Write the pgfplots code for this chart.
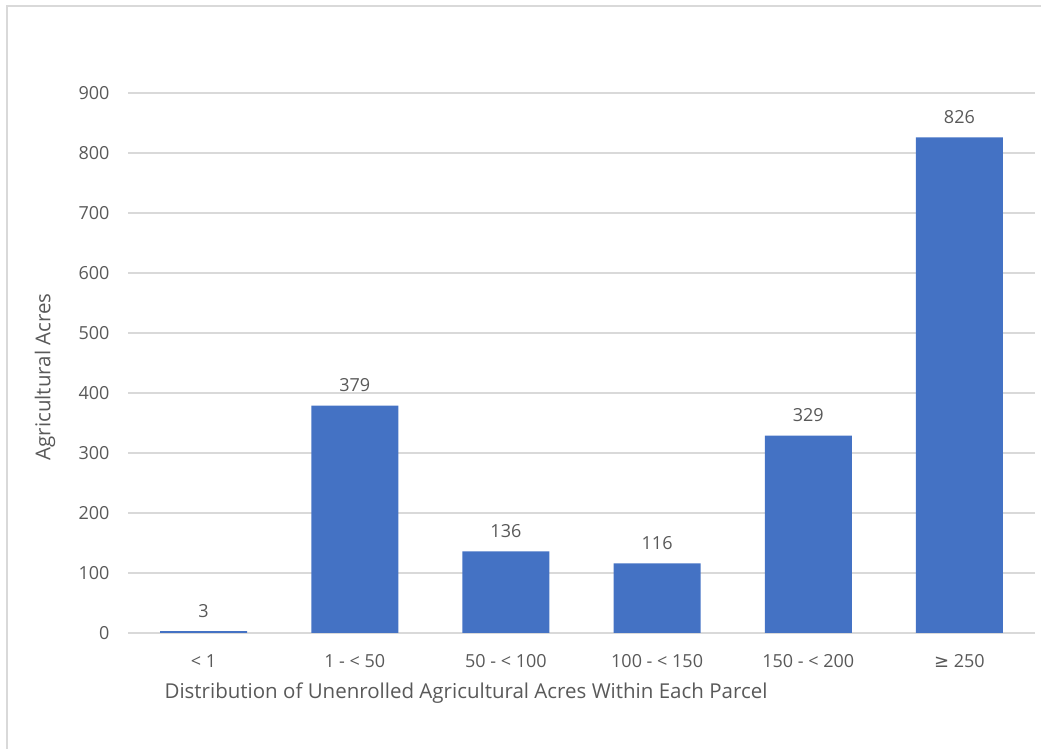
\documentclass[border=0pt]{standalone}
\usepackage{fontspec}
\setmainfont{Open Sans}
\newfontfamily\symfont{DejaVu Sans}
\usepackage{pgfplots}
\pgfplotsset{compat=1.18}
\definecolor{barblue}{HTML}{4472C4}
\definecolor{txt}{HTML}{595959}
\definecolor{gridc}{HTML}{D9D9D9}
\begin{document}
\begin{tikzpicture}[x=1bp,y=1bp]
\path[use as bounding box] (0,0) rectangle (1041,749);
\draw[gridc, line width=2bp] (7,0) -- (7,743) -- (1041,743);
\begin{axis}[
  at={(128bp,116bp)}, anchor=south west,
  scale only axis, width=907bp, height=540bp,
  xmin=-0.5, xmax=5.5, ymin=0, ymax=900,
  ytick={0,100,...,900},
  xtick={0,...,5},
  xticklabels={{< 1},{1 - < 50},{50 - < 100},{100 - < 150},{150 - < 200},{{\symfont ≥} 250}},
  ymajorgrids, grid style={gridc, line width=1.2bp},
  axis line style={draw=none},
  major tick length=0pt,
  tick label style={font=\fontsize{18bp}{21bp}\selectfont, text=txt},
  /pgf/number format/assume math mode=true,
  yticklabel style={xshift=-15bp},
  xticklabel style={yshift=-18bp},
  nodes near coords,
  every node near coord/.append style={font=\fontsize{18bp}{21bp}\selectfont, text=txt, yshift=10bp},
  clip=false,
]
\addplot[ybar, bar width=87bp, fill=barblue, draw=none] coordinates {(0,3) (1,379) (2,136) (3,116) (4,329) (5,826)};
\end{axis}
\node[font=\fontsize{20.5bp}{24bp}\selectfont, text=txt] at (466,56) {Distribution of Unenrolled Agricultural Acres Within Each Parcel};
\node[font=\fontsize{20.5bp}{24bp}\selectfont, text=txt, rotate=90] at (45,372) {Agricultural Acres};
\end{tikzpicture}
\end{document}
